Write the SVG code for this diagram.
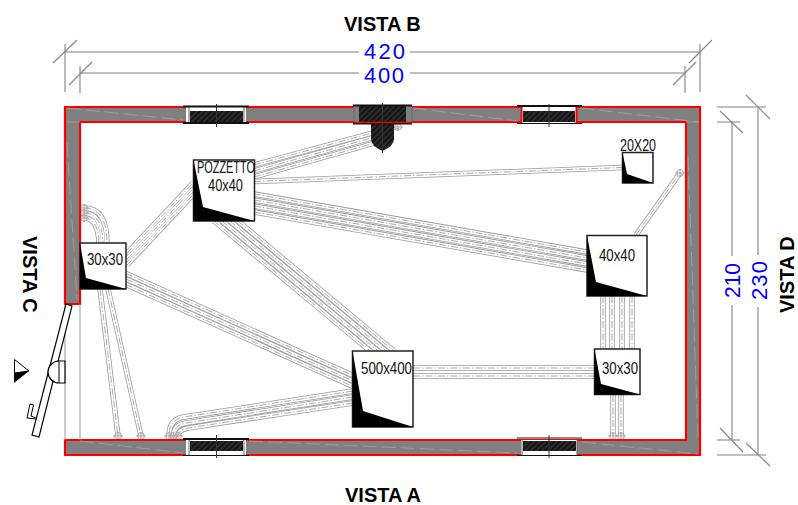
<svg xmlns="http://www.w3.org/2000/svg" width="798" height="505" viewBox="0 0 798 505">
<style>
.t{font-family:"Liberation Sans",Arial,sans-serif;fill:#000}
.v{font-size:20px;font-weight:700}
.b{font-size:16px;fill:#111}
.d{font-family:"Liberation Sans",Arial,sans-serif;font-size:22px;fill:#0000ff}
.dim{stroke:#aaa;stroke-width:1.600;fill:none}
.sl{stroke:#888;stroke-width:1.200;fill:none}
.o{fill:none;stroke:#999;stroke-width:5.400}
.i{fill:none;stroke:#fff;stroke-width:3.800}
.c{fill:none;stroke:#aaa;stroke-width:1;stroke-dasharray:7 2 1.5 2}
.mk circle,.mk path{fill:none;stroke:#aaa;stroke-width:1}
.box{fill:#fff;stroke:#222;stroke-width:1.500}
.wedge{fill:#000}
.bar{stroke:#111;fill:none}
.ctr{stroke:#333;stroke-width:1;fill:none}
.frame{stroke:#666;stroke-width:1;fill:none}
.wl{stroke:#a6a6a6;stroke-width:.8;stroke-dasharray:14 5;fill:none}
</style>
<defs>
<pattern id="h" width="4" height="4" patternUnits="userSpaceOnUse" patternTransform="rotate(-45)">
<rect width="4" height="4" fill="#141414"/><path d="M0,2H4" stroke="#444" stroke-width="1"/>
</pattern>
<g id="mk" class="mk"><circle r="3.4"/><path d="M-5,0H5M0,-4V4"/></g>
<g id="cs">
<path d="M127,253L193,183"/><path d="M127,259L193,189"/><path d="M127,265L193,195"/>
<path d="M254,165L398,126"/><path d="M254,171L375,137"/><path d="M254,177L375,143"/>
<path d="M254,181.5L622,167.5"/>
<path d="M254,194L587,252"/><path d="M254,200L587,258"/><path d="M254,206L587,264"/><path d="M254,212L587,270"/>
<path d="M214,221L370,351"/><path d="M222,221L378,351"/><path d="M230,221L386,351"/><path d="M238,221L394,351"/>
<path d="M126,273.500L353,375.500"/><path d="M126,279L353,381"/><path d="M126,284.500L353,386.500"/>
<path d="M353,391L184,417Q169,419 169,436"/><path d="M353,397L186,423Q173.5,425 173.5,436"/><path d="M353,403L188,428Q178,430 178,436"/>
<path d="M100,289L118,436"/><path d="M108,289L141,436"/>
<path d="M84,208Q107,208 107,243"/><path d="M84,213Q102,213 103,243"/><path d="M84,218Q98,218 99,243"/>
<path d="M636,235L680,173"/>
<path d="M603,296V349"/><path d="M612,296V349"/><path d="M622,296V349"/><path d="M632,296V349"/>
<path d="M613,395V436"/><path d="M621,395V436"/>
<path d="M413,368H594"/><path d="M413,376H594"/>
</g>
</defs>
<g id="connectors">
<use href="#cs" class="o"/><use href="#cs" class="i"/><use href="#cs" class="c"/>
<use href="#mk" x="118" y="436"/><use href="#mk" x="141" y="436"/><use href="#mk" x="169" y="436"/><use href="#mk" x="173.5" y="436"/><use href="#mk" x="178" y="436"/><use href="#mk" x="613" y="436"/><use href="#mk" x="621" y="436"/><use href="#mk" x="84" y="208"/><use href="#mk" x="84" y="213"/><use href="#mk" x="84" y="218"/><use href="#mk" x="680" y="173"/><use href="#mk" x="398" y="127"/>
</g>
<g id="wall">
<path d="M65,304V107H700V455H65V440H686V122H80V304Z" fill="#808080" stroke="#ff0000" stroke-width="2.200"/>
<path d="M65,304V440M80,304V440" stroke="#999" stroke-width="1" fill="none"/>
<path class="wl" d="M67,108L183,120M413,108L517,121M580,108L699,122M80,441L183,453M249,441L517,453M582,442L698,454M67,143L77,300M688,157L698,440M67,122H80M686,122H699"/>
</g>
<g id="window-top-1">
<rect x="186" y="107" width="60" height="16" fill="#fff"/><rect x="190" y="111" width="53" height="11" fill="url(#h)"/>
<path class="frame" d="M189,107V123M244,107V123"/><path class="bar" stroke-width="2" d="M183,106.500H249M183,123H249"/><path class="ctr" d="M216.500,104V127"/>
</g>
<g id="window-top-2">
<rect x="354" y="106" width="58" height="17" fill="#808080"/><rect x="359" y="106" width="47" height="17" fill="url(#h)"/>
<path d="M371,124V139Q371,146 382.500,151Q394,146 394,139V124Z" fill="url(#h)"/>
<path class="frame" d="M354,106V123M412,106V123"/><path class="bar" stroke-width="2" d="M353,105.500H412M353,123.500H412"/><path d="M354,122.500H412" stroke="#f00" stroke-width="1.500" fill="none"/><path class="ctr" d="M382.500,103V153"/>
</g>
<g id="window-top-3">
<rect x="521" y="107" width="56" height="16" fill="#fff"/><rect x="523" y="111" width="52" height="11" fill="url(#h)"/>
<path d="M521.500,107V123M576.500,107V123" stroke="#f00" stroke-width="2" fill="none"/><path class="bar" stroke-width="2" d="M517,106H582"/><path class="bar" stroke-width="1" d="M517,123.500H582"/><path class="ctr" d="M549,104V127"/>
</g>
<g id="window-bottom-1">
<rect x="186" y="440" width="60" height="15" fill="#fff"/><rect x="190" y="441" width="53" height="10" fill="url(#h)"/>
<path class="frame" d="M189,440V455M244,440V455"/><path class="bar" stroke-width="2" d="M183,439H249"/><path class="bar" stroke-width="1" d="M183,455.500H249"/><path class="ctr" d="M216.500,435V458"/>
</g>
<g id="window-bottom-2">
<rect x="521" y="440" width="56" height="15" fill="#fff"/><rect x="523" y="441" width="53" height="10" fill="url(#h)"/>
<path class="frame" d="M522,440V455M577,440V455"/><path class="bar" stroke-width="1" d="M517,438H582M517,455.500H582"/><path class="ctr" d="M549,435V458"/>
</g>
<g id="door">
<path d="M66,304L72,306L39,437L32,435Z" fill="#fff" stroke="#000" stroke-width="1.200"/>
<path d="M65,361H59A11,11 0 0 0 59,383H65Z" fill="#fff" stroke="#000" stroke-width="1.200"/>
<path d="M59,361V383" stroke="#000" fill="none"/>
<path d="M36,419L27,418L30,404L33.500,405L31,416L36,418" fill="#fff" stroke="#000"/>
</g>
<g id="marker">
<path d="M14.500,359.500L29,371L14.500,373Z" fill="#fff" stroke="#000"/>
<path d="M14,373L29,371L14,383Z" fill="#000"/>
</g>
<g id="box-30x30-left">
<rect class="box" x="80" y="243" width="46" height="46"/><path class="wedge" d="M80,243L86,278L126,289H80Z"/>
<text class="t b" x="87" y="265" textLength="36" lengthAdjust="spacingAndGlyphs">30x30</text>
</g>
<g id="box-pozzetto">
<rect class="box" x="193.500" y="160" width="61" height="61"/><path class="wedge" d="M193.500,160L203,207L254.500,221H193.500Z"/>
<text class="t b" x="197" y="173" textLength="58" lengthAdjust="spacingAndGlyphs">POZZETTO</text>
<text class="t b" x="208" y="191" textLength="35" lengthAdjust="spacingAndGlyphs">40x40</text>
</g>
<g id="box-20x20">
<rect class="box" x="622.500" y="152.500" width="30.500" height="30.500"/><path class="wedge" d="M622.500,152.500L627,174L653,183H622.500Z"/>
<text class="t b" x="620" y="150.500" textLength="36" lengthAdjust="spacingAndGlyphs">20X20</text>
</g>
<g id="box-40x40-right">
<rect class="box" x="587" y="235.500" width="60" height="60.500"/><path class="wedge" d="M587,235.500L596,282L647,296H587Z"/>
<text class="t b" x="599" y="261" textLength="36" lengthAdjust="spacingAndGlyphs">40x40</text>
</g>
<g id="box-500x400">
<rect class="box" x="352.500" y="351" width="60.500" height="76"/><path class="wedge" d="M352.500,351L363,411L413,427H352.500Z"/>
<text class="t b" x="361" y="374" textLength="51" lengthAdjust="spacingAndGlyphs">500x400</text>
</g>
<g id="box-30x30-right">
<rect class="box" x="594.500" y="349" width="45.500" height="45.500"/><path class="wedge" d="M594.500,349L601,384L640,394.500H594.500Z"/>
<text class="t b" x="602" y="374" textLength="36" lengthAdjust="spacingAndGlyphs">30x30</text>
</g>
<g id="dimensions">
<path class="dim" d="M65,44V92M80,66V93M700,44V92M685,66V93M65,52H359M410,52H700M80,73H359M410,73H685M717,107H766M717,122H740M717,440H740M717,455H766M732,122V256M732,305V440M758,107V255M758,307V455"/>
<path class="sl" d="M53,63L77,40M69,85L92,62M689,63L712,40M673,85L696,62M746,95L770,119M720,111L743,133M720,428L743,452M746,443L770,466"/>
<text class="d" x="364" y="59" textLength="41" lengthAdjust="spacing">420</text>
<text class="d" x="364" y="82.500" textLength="40" lengthAdjust="spacing">400</text>
<text class="d" transform="translate(740,298) rotate(-90)" textLength="35" lengthAdjust="spacingAndGlyphs">210</text>
<text class="d" transform="translate(767,300) rotate(-90)" textLength="39" lengthAdjust="spacing">230</text>
</g>
<g id="labels">
<text class="t v" x="344" y="31">VISTA B</text>
<text class="t v" x="345" y="502">VISTA A</text>
<text class="t v" transform="translate(23,236) rotate(90)">VISTA C</text>
<text class="t v" transform="translate(794,313) rotate(-90)">VISTA D</text>
</g>
</svg>
